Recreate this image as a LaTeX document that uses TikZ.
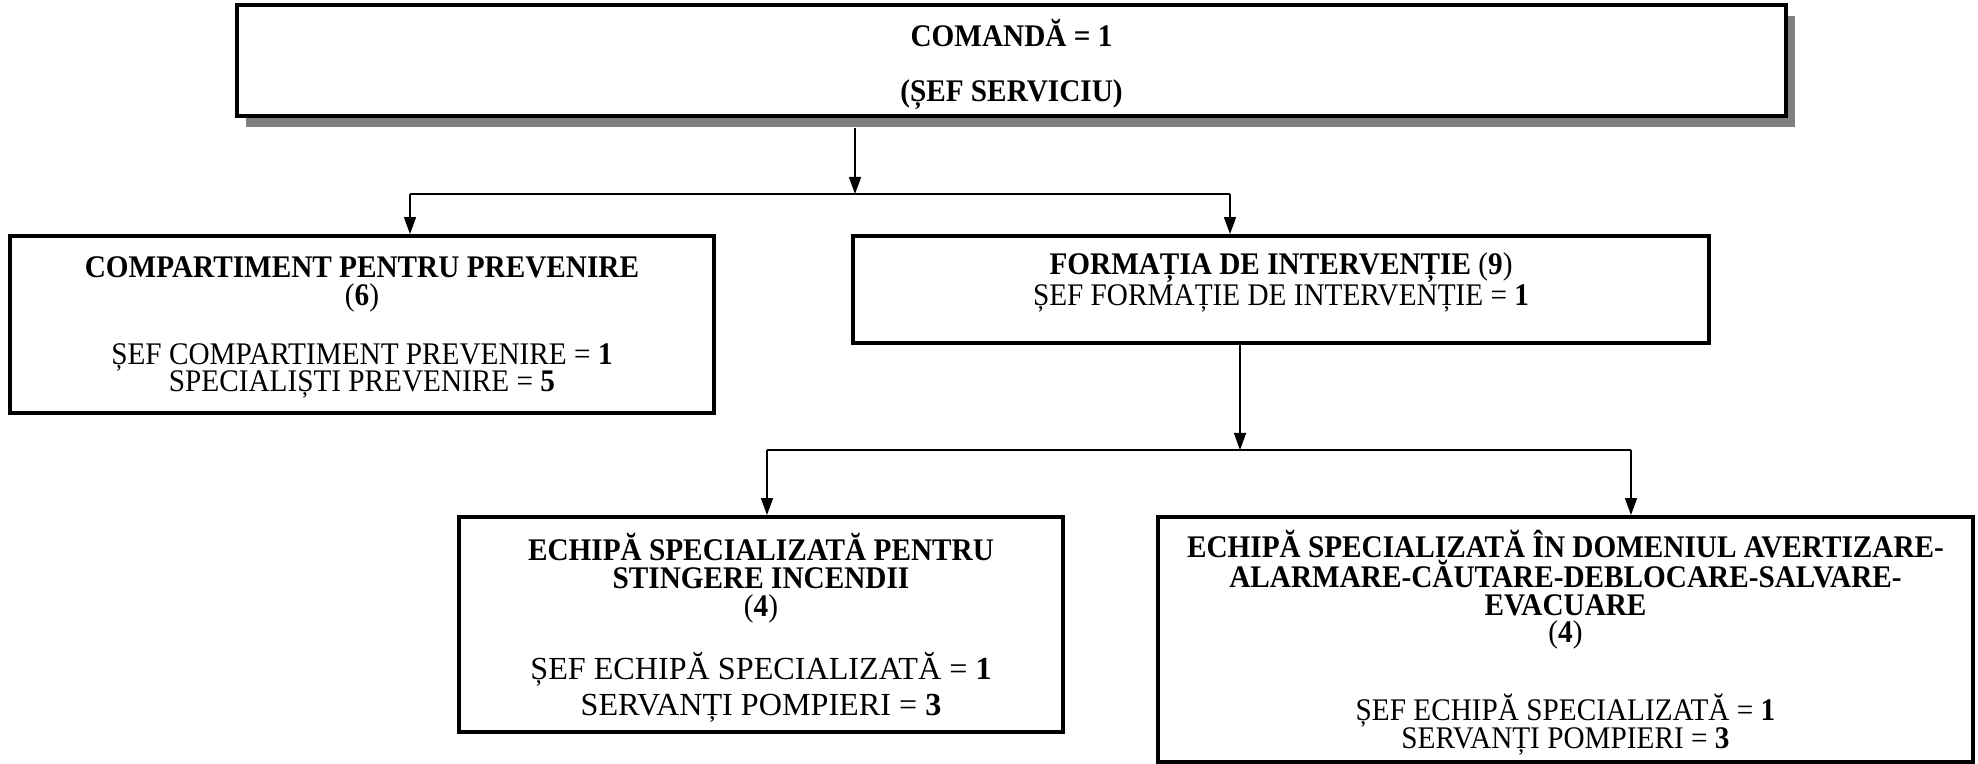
\documentclass[tikz,border=0pt]{standalone}
\usepackage{fontspec}
\setmainfont{Liberation Serif}[FakeStretch=0.93]
\newfontfamily\plainserif{Liberation Serif}
\usetikzlibrary{arrows.meta,shadows}

\begin{document}
\begin{tikzpicture}[
    box/.style={draw, fill=white, rectangle, line width=2.2pt, align=center, inner sep=0pt,
      font=\fontsize{17.9}{15.8}\selectfont},
    link/.style={line width=0.9pt},
    tolink/.style={link, -{Triangle[length=0.34cm,width=0.24cm]}}
  ]
    \useasboundingbox (0,0) rectangle (39.56,-15.28);
    \node [box, minimum width=30.98cm, minimum height=2.22cm, text depth=0pt,
      drop shadow={shadow xshift=0.18cm, shadow yshift=-0.22cm, fill=gray, opacity=1}]
      (comanda) at (20.23,-1.21) {\textbf{COMANDĂ = 1}\\[15.8pt]\textbf{(ȘEF SERVICIU)}};
    \node [box, minimum width=14.08cm, minimum height=3.54cm, text depth=0pt] (prevenire) at (7.24,-6.49)
      {\textbf{COMPARTIMENT PENTRU PREVENIRE}\\(\textbf{6})\\[17.5pt]ȘEF COMPARTIMENT PREVENIRE = \textbf{1}\\SPECIALIȘTI PREVENIRE = \textbf{5}};
    \node [box, minimum width=17.12cm, minimum height=2.14cm, text depth=12pt] (formatia) at (25.62,-5.79)
      {\textbf{FORMAȚIA DE INTERVENȚIE} (\textbf{9})\\ȘEF FORMAȚIE DE INTERVENȚIE = \textbf{1}};
    \node [box, minimum width=12.08cm, minimum height=4.30cm, text depth=0pt] (stingere) at (15.22,-12.49)
      {\textbf{ECHIPĂ SPECIALIZATĂ PENTRU}\\\textbf{STINGERE INCENDII}\\(\textbf{4})\\[15.8pt]
      \plainserif\fontsize{18.3}{19.5}\selectfont ȘEF ECHIPĂ SPECIALIZATĂ = \textbf{1}\\[3.5pt]
      \plainserif\fontsize{18.3}{19.5}\selectfont SERVANȚI POMPIERI = \textbf{3}};
    \node [box, minimum width=16.30cm, minimum height=4.90cm, text depth=0pt] (salvare) at (31.31,-12.79)
      {\textbf{ECHIPĂ SPECIALIZATĂ ÎN DOMENIUL AVERTIZARE-}\\\textbf{ALARMARE-CĂUTARE-DEBLOCARE-SALVARE-}\\\textbf{EVACUARE}\\(\textbf{4})\\[24.3pt]ȘEF ECHIPĂ SPECIALIZATĂ = \textbf{1}\\SERVANȚI POMPIERI = \textbf{3}};

    \coordinate (c1) at (17.1,-3.88);
    \coordinate (cl) at (8.2,-3.88);
    \coordinate (cr) at (24.6,-3.88);
    \draw [tolink, shorten <=0.2cm] (comanda.south -| c1) -- (c1);
    \draw [link] (cl) -- (cr);
    \draw [tolink] (cl) -- (cl |- prevenire.north);
    \draw [tolink] (cr) -- (cr |- formatia.north);

    \coordinate (f1) at (24.8,-9.0);
    \coordinate (fl) at (15.34,-9.0);
    \coordinate (fr) at (32.62,-9.0);
    \draw [tolink] (formatia.south -| f1) -- (f1);
    \draw [link] (fl) -- (fr);
    \draw [tolink] (fl) -- (fl |- stingere.north);
    \draw [tolink] (fr) -- (fr |- salvare.north);
\end{tikzpicture}
\end{document}
